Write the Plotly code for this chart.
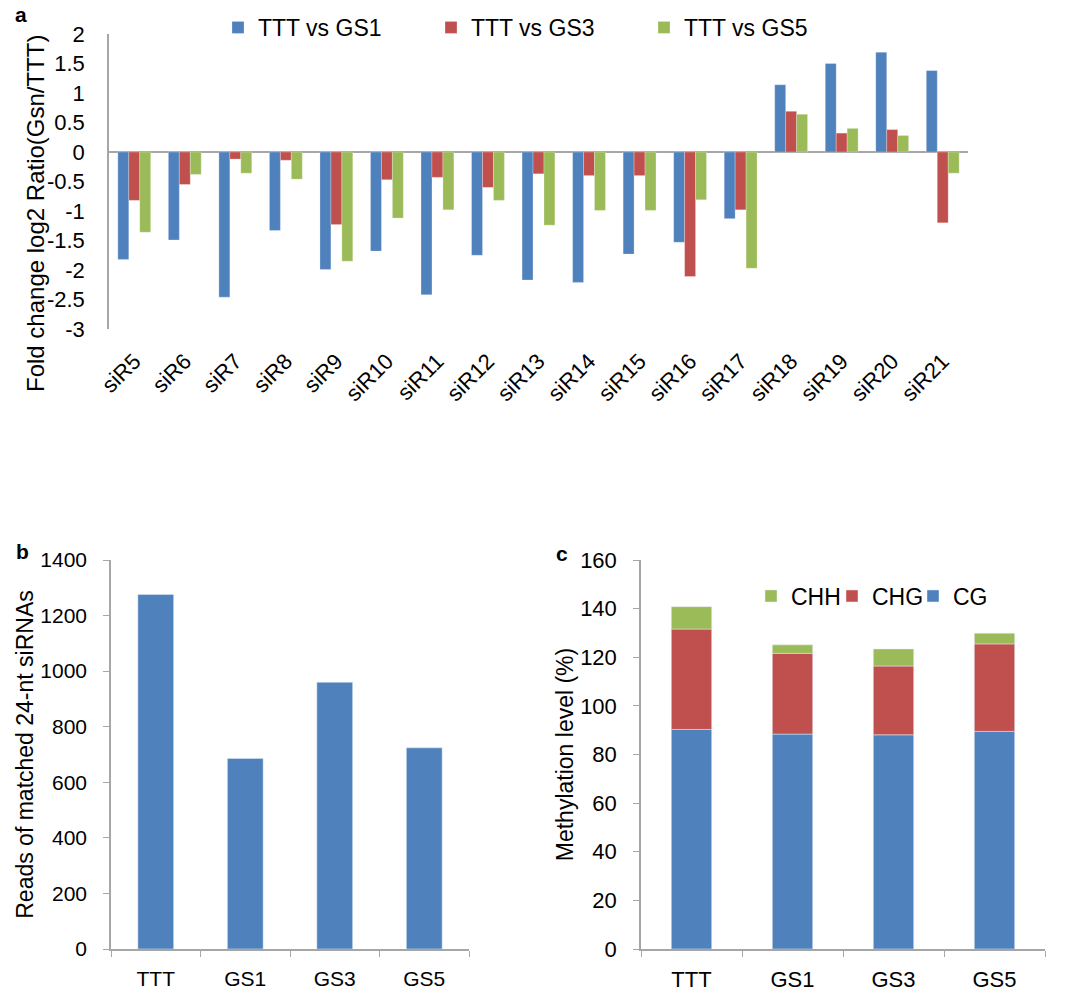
import plotly.graph_objects as go

# ---- data ----
sirnas = ["siR5", "siR6", "siR7", "siR8", "siR9", "siR10", "siR11", "siR12", "siR13",
          "siR14", "siR15", "siR16", "siR17", "siR18", "siR19", "siR20", "siR21"]
gs1_vs = [-1.82, -1.49, -2.46, -1.33, -1.99, -1.68, -2.42, -1.75, -2.17,
          -2.21, -1.73, -1.53, -1.13, 1.14, 1.50, 1.69, 1.38]
gs3_vs = [-0.82, -0.55, -0.12, -0.14, -1.23, -0.47, -0.43, -0.60, -0.37,
          -0.40, -0.40, -2.11, -0.98, 0.69, 0.32, 0.38, -1.20]
gs5_vs = [-1.36, -0.38, -0.36, -0.46, -1.85, -1.12, -0.98, -0.82, -1.24,
          -0.99, -0.99, -0.81, -1.97, 0.64, 0.40, 0.28, -0.36]
a_tickvals = [2, 1.5, 1, 0.5, 0, -0.5, -1, -1.5, -2, -2.5, -3]
a_ticktext = ["2", "1.5", "1", "0.5", "0", "-0.5", "-1", "-1.5", "-2", "-2.5", "-3"]

samples = ["TTT", "GS1", "GS3", "GS5"]
reads = [1276, 686, 960, 724]

cg = [90.3, 88.4, 88.1, 89.5]
chg = [41.3, 33.2, 28.3, 36.0]
chh = [9.2, 3.5, 7.0, 4.4]

BLUE = "#4F81BD"
RED = "#C0504D"
GREEN = "#9BBB59"
AX = "#A6A6A6"
FONT = "Liberation Sans, Arial, sans-serif"

fig = go.Figure()

# panel a
for name, vals, col in [("TTT vs GS1", gs1_vs, BLUE), ("TTT vs GS3", gs3_vs, RED),
                        ("TTT vs GS5", gs5_vs, GREEN)]:
    fig.add_trace(go.Bar(x=sirnas, y=vals, name=name, marker_color=col,
                         marker_line=dict(color="rgba(255,255,255,0.5)", width=0.5),
                         xaxis="x", yaxis="y", legend="legend"))

# panel b
fig.add_trace(go.Bar(x=samples, y=reads, marker_color=BLUE, width=0.4,
                     offsetgroup="b", showlegend=False, xaxis="x2", yaxis="y2"))

# panel c (stacked via base)
base_chg = [a for a in cg]
base_chh = [a + b for a, b in zip(cg, chg)]
fig.add_trace(go.Bar(x=samples, y=cg, name="CG", marker_color=BLUE, width=0.4,
                     offsetgroup="c", base=[0] * len(cg), xaxis="x3", yaxis="y3",
                     legend="legend2", legendrank=3))
fig.add_trace(go.Bar(x=samples, y=chg, name="CHG", marker_color=RED, width=0.4,
                     offsetgroup="c", base=base_chg, xaxis="x3", yaxis="y3",
                     legend="legend2", legendrank=2))
fig.add_trace(go.Bar(x=samples, y=chh, name="CHH", marker_color=GREEN, width=0.4,
                     offsetgroup="c", base=base_chh, xaxis="x3", yaxis="y3",
                     legend="legend2", legendrank=1))

W, H = 1070, 991
def px(x): return x / W
def py(y): return 1 - y / H

fig.update_layout(
    width=W, height=H,
    margin=dict(l=0, r=0, t=0, b=0, autoexpand=False),
    paper_bgcolor="white", plot_bgcolor="white",
    font=dict(family=FONT, size=21, color="black"),
    barmode="group", bargap=0.35, bargroupgap=0,
    showlegend=True,
    xaxis=dict(domain=[px(109), px(968)], anchor="y", range=[-0.5, 16.5],
               automargin=False,
               showline=False, ticks="", tickangle=-45, showgrid=False,
               tickfont=dict(size=22), ticklabelstandoff=14),
    yaxis=dict(domain=[py(329), py(34)], anchor="x", range=[-3, 2],
               tickvals=a_tickvals, ticktext=a_ticktext,
               automargin=False,
               showline=True, linecolor=AX, linewidth=1.5, ticks="",
               showgrid=False, zeroline=True, zerolinecolor=AX, zerolinewidth=2,
               tickfont=dict(size=22), ticklabelstandoff=18),
    xaxis2=dict(domain=[px(111), px(469)], anchor="y2", range=[-0.5, 3.5],
                automargin=False,
                showline=True, linecolor=AX, linewidth=1.5, ticks="outside",
                tickson="boundaries", ticklen=6, tickcolor=AX, showgrid=False,
                tickfont=dict(size=21), ticklabelstandoff=10),
    yaxis2=dict(domain=[py(949), py(560)], anchor="x2", range=[0, 1400], dtick=200,
                automargin=False,
                showline=True, linecolor=AX, linewidth=1.5, ticks="outside",
                ticklen=6, tickcolor=AX, showgrid=False, zeroline=False,
                tickfont=dict(size=21), ticklabelstandoff=12,
                title=dict(text="Reads of matched 24-nt siRNAs", font=dict(size=23),
                           standoff=0)),
    xaxis3=dict(domain=[px(641), px(1045)], anchor="y3", range=[-0.5, 3.5],
                automargin=False,
                showline=True, linecolor=AX, linewidth=1.5, ticks="outside",
                tickson="boundaries", ticklen=6, tickcolor=AX, showgrid=False,
                tickfont=dict(size=22), ticklabelstandoff=10),
    yaxis3=dict(domain=[py(949), py(560)], anchor="x3", range=[0, 160], dtick=20,
                automargin=False,
                showline=True, linecolor=AX, linewidth=1.5, ticks="outside",
                ticklen=6, tickcolor=AX, showgrid=False, zeroline=False,
                tickfont=dict(size=22), ticklabelstandoff=12,
                title=dict(text="Methylation level (%)", font=dict(size=23),
                           standoff=0)),
    legend=dict(orientation="h", x=px(218), y=py(27.5), xanchor="left", yanchor="middle",
                font=dict(size=23), entrywidth=168, entrywidthmode="pixels",
                itemwidth=30, bgcolor="rgba(0,0,0,0)", traceorder="normal"),
    legend2=dict(orientation="h", x=px(751), y=py(596), xanchor="left", yanchor="middle",
                 font=dict(size=23), entrywidth=36, entrywidthmode="pixels",
                 itemwidth=30, bgcolor="rgba(0,0,0,0)", traceorder="normal"),
    annotations=[
        dict(text="Fold change log2 Ratio(Gsn/TTT)", x=px(36), y=py(214),
             xref="paper", yref="paper", showarrow=False, textangle=-90,
             xanchor="center", yanchor="middle", font=dict(size=24)),
        dict(text="<b>a</b>", x=px(13), y=py(15), xref="paper", yref="paper",
             showarrow=False, xanchor="left", yanchor="middle", font=dict(size=21)),
        dict(text="<b>b</b>", x=px(14), y=py(551), xref="paper", yref="paper",
             showarrow=False, xanchor="left", yanchor="middle", font=dict(size=21)),
        dict(text="<b>c</b>", x=px(554), y=py(553), xref="paper", yref="paper",
             showarrow=False, xanchor="left", yanchor="middle", font=dict(size=21)),
    ],
)

fig.write_html("out.html", post_script="document.body.style.margin='0';",
               config={"displayModeBar": False})
